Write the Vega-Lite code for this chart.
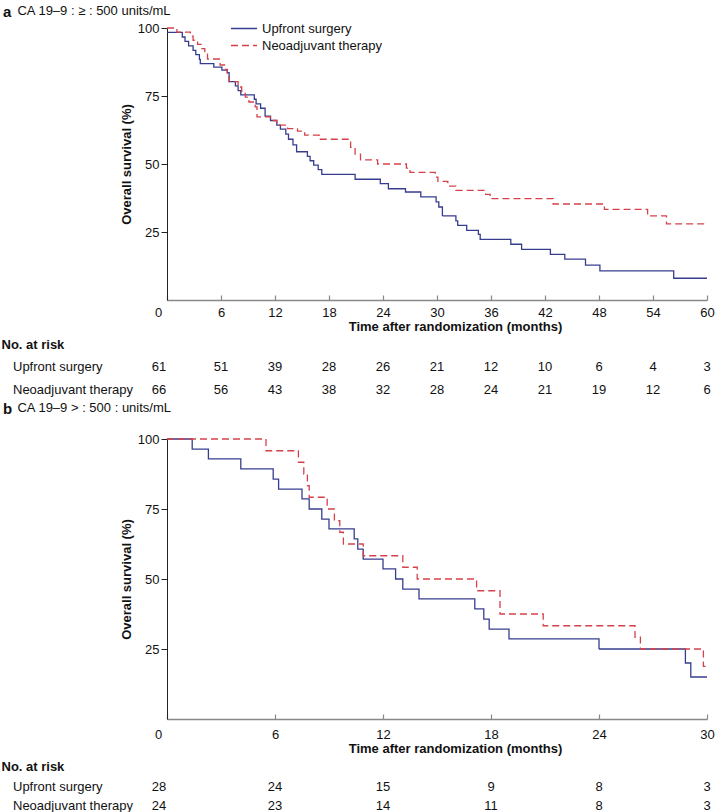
{
  "$schema": "https://vega.github.io/schema/vega-lite/v6.json",
  "background": "white",
  "padding": {"left": 1, "top": 5, "right": 5, "bottom": 0},
  "config": {
    "font": "Liberation Sans",
    "view": {"stroke": null},
    "axis": {"labelFontSize": 13, "titleFontSize": 13, "titleFontWeight": "bold", "labelColor": "#111", "titleColor": "#111", "grid": false, "labelFlush": false},
    "title": {"fontSize": 15, "fontWeight": "bold", "anchor": "start", "color": "#111", "subtitleFontSize": 13, "subtitleColor": "#111", "frame": "group"}
  },
  "spacing": 1,
  "resolve": {"scale": {"color": "independent", "strokeDash": "independent"}},
  "datasets": {
    "kmA": [
      {"group": "Upfront surgery", "time": 0, "surv": 98.4},
      {"group": "Upfront surgery", "time": 1.7, "surv": 96.7},
      {"group": "Upfront surgery", "time": 2.0, "surv": 95.1},
      {"group": "Upfront surgery", "time": 2.4, "surv": 93.4},
      {"group": "Upfront surgery", "time": 2.9, "surv": 91.8},
      {"group": "Upfront surgery", "time": 3.2, "surv": 90.2},
      {"group": "Upfront surgery", "time": 3.6, "surv": 88.5},
      {"group": "Upfront surgery", "time": 3.7, "surv": 86.9},
      {"group": "Upfront surgery", "time": 5.2, "surv": 85.6},
      {"group": "Upfront surgery", "time": 6.1, "surv": 84.5},
      {"group": "Upfront surgery", "time": 6.7, "surv": 83.6},
      {"group": "Upfront surgery", "time": 6.9, "surv": 80.3},
      {"group": "Upfront surgery", "time": 7.6, "surv": 78.7},
      {"group": "Upfront surgery", "time": 7.9, "surv": 77.0},
      {"group": "Upfront surgery", "time": 8.2, "surv": 75.4},
      {"group": "Upfront surgery", "time": 9.7, "surv": 73.8},
      {"group": "Upfront surgery", "time": 9.9, "surv": 72.1},
      {"group": "Upfront surgery", "time": 10.4, "surv": 70.5},
      {"group": "Upfront surgery", "time": 10.9, "surv": 67.6},
      {"group": "Upfront surgery", "time": 11.5, "surv": 66.0},
      {"group": "Upfront surgery", "time": 12.2, "surv": 64.3},
      {"group": "Upfront surgery", "time": 12.6, "surv": 62.8},
      {"group": "Upfront surgery", "time": 13.2, "surv": 61.0},
      {"group": "Upfront surgery", "time": 13.5, "surv": 59.1},
      {"group": "Upfront surgery", "time": 14.0, "surv": 57.0},
      {"group": "Upfront surgery", "time": 14.4, "surv": 54.5},
      {"group": "Upfront surgery", "time": 15.6, "surv": 52.8},
      {"group": "Upfront surgery", "time": 15.9, "surv": 51.2},
      {"group": "Upfront surgery", "time": 16.3, "surv": 49.6},
      {"group": "Upfront surgery", "time": 16.8, "surv": 47.9},
      {"group": "Upfront surgery", "time": 17.2, "surv": 46.2},
      {"group": "Upfront surgery", "time": 20.9, "surv": 44.4},
      {"group": "Upfront surgery", "time": 23.7, "surv": 42.8},
      {"group": "Upfront surgery", "time": 24.6, "surv": 40.9},
      {"group": "Upfront surgery", "time": 26.5, "surv": 39.7},
      {"group": "Upfront surgery", "time": 28.2, "surv": 37.9},
      {"group": "Upfront surgery", "time": 29.9, "surv": 36.1},
      {"group": "Upfront surgery", "time": 30.2, "surv": 34.2},
      {"group": "Upfront surgery", "time": 30.6, "surv": 30.9},
      {"group": "Upfront surgery", "time": 32.1, "surv": 29.1},
      {"group": "Upfront surgery", "time": 32.3, "surv": 27.4},
      {"group": "Upfront surgery", "time": 33.3, "surv": 25.6},
      {"group": "Upfront surgery", "time": 34.6, "surv": 24.1},
      {"group": "Upfront surgery", "time": 34.8, "surv": 22.3},
      {"group": "Upfront surgery", "time": 38.2, "surv": 20.5},
      {"group": "Upfront surgery", "time": 39.4, "surv": 18.6},
      {"group": "Upfront surgery", "time": 42.6, "surv": 16.8},
      {"group": "Upfront surgery", "time": 44.2, "surv": 15.0},
      {"group": "Upfront surgery", "time": 46.5, "surv": 12.8},
      {"group": "Upfront surgery", "time": 48.1, "surv": 10.7},
      {"group": "Upfront surgery", "time": 56.3, "surv": 8.0},
      {"group": "Upfront surgery", "time": 60.0, "surv": 8.0},
      {"group": "Neoadjuvant therapy", "time": 0, "surv": 100},
      {"group": "Neoadjuvant therapy", "time": 1.1, "surv": 98.5},
      {"group": "Neoadjuvant therapy", "time": 2.6, "surv": 97.0},
      {"group": "Neoadjuvant therapy", "time": 2.9, "surv": 95.5},
      {"group": "Neoadjuvant therapy", "time": 3.4, "surv": 94.0},
      {"group": "Neoadjuvant therapy", "time": 3.8, "surv": 92.4},
      {"group": "Neoadjuvant therapy", "time": 4.2, "surv": 90.9},
      {"group": "Neoadjuvant therapy", "time": 4.5, "surv": 88.6},
      {"group": "Neoadjuvant therapy", "time": 5.9, "surv": 86.4},
      {"group": "Neoadjuvant therapy", "time": 6.4, "surv": 84.8},
      {"group": "Neoadjuvant therapy", "time": 6.7, "surv": 83.3},
      {"group": "Neoadjuvant therapy", "time": 6.9, "surv": 80.3},
      {"group": "Neoadjuvant therapy", "time": 7.9, "surv": 78.3},
      {"group": "Neoadjuvant therapy", "time": 8.3, "surv": 76.5},
      {"group": "Neoadjuvant therapy", "time": 8.7, "surv": 74.6},
      {"group": "Neoadjuvant therapy", "time": 9.1, "surv": 72.8},
      {"group": "Neoadjuvant therapy", "time": 9.8, "surv": 71.0},
      {"group": "Neoadjuvant therapy", "time": 10.0, "surv": 67.3},
      {"group": "Neoadjuvant therapy", "time": 11.5, "surv": 66.0},
      {"group": "Neoadjuvant therapy", "time": 12.2, "surv": 64.3},
      {"group": "Neoadjuvant therapy", "time": 13.4, "surv": 63.0},
      {"group": "Neoadjuvant therapy", "time": 14.5, "surv": 62.1},
      {"group": "Neoadjuvant therapy", "time": 15.3, "surv": 60.6},
      {"group": "Neoadjuvant therapy", "time": 16.9, "surv": 59.1},
      {"group": "Neoadjuvant therapy", "time": 20.4, "surv": 56.1},
      {"group": "Neoadjuvant therapy", "time": 20.9, "surv": 53.6},
      {"group": "Neoadjuvant therapy", "time": 21.5, "surv": 51.5},
      {"group": "Neoadjuvant therapy", "time": 23.4, "surv": 50.0},
      {"group": "Neoadjuvant therapy", "time": 26.6, "surv": 48.5},
      {"group": "Neoadjuvant therapy", "time": 27.0, "surv": 46.9},
      {"group": "Neoadjuvant therapy", "time": 29.8, "surv": 45.2},
      {"group": "Neoadjuvant therapy", "time": 30.1, "surv": 43.6},
      {"group": "Neoadjuvant therapy", "time": 31.2, "surv": 41.9},
      {"group": "Neoadjuvant therapy", "time": 32.1, "surv": 40.3},
      {"group": "Neoadjuvant therapy", "time": 35.4, "surv": 38.8},
      {"group": "Neoadjuvant therapy", "time": 35.9, "surv": 37.3},
      {"group": "Neoadjuvant therapy", "time": 42.9, "surv": 35.3},
      {"group": "Neoadjuvant therapy", "time": 48.6, "surv": 33.3},
      {"group": "Neoadjuvant therapy", "time": 53.4, "surv": 30.9},
      {"group": "Neoadjuvant therapy", "time": 55.5, "surv": 28.0},
      {"group": "Neoadjuvant therapy", "time": 60.0, "surv": 28.0}
    ],
    "kmB": [
      {"group": "Upfront surgery", "time": 0, "surv": 100},
      {"group": "Upfront surgery", "time": 1.4, "surv": 96.4},
      {"group": "Upfront surgery", "time": 2.3, "surv": 92.9},
      {"group": "Upfront surgery", "time": 4.1, "surv": 89.3},
      {"group": "Upfront surgery", "time": 5.9, "surv": 85.7},
      {"group": "Upfront surgery", "time": 6.2, "surv": 82.1},
      {"group": "Upfront surgery", "time": 7.5, "surv": 78.6},
      {"group": "Upfront surgery", "time": 7.9, "surv": 75.0},
      {"group": "Upfront surgery", "time": 8.6, "surv": 71.4},
      {"group": "Upfront surgery", "time": 9.0, "surv": 67.9},
      {"group": "Upfront surgery", "time": 10.4, "surv": 64.3},
      {"group": "Upfront surgery", "time": 10.6, "surv": 60.7},
      {"group": "Upfront surgery", "time": 10.9, "surv": 57.1},
      {"group": "Upfront surgery", "time": 12.0, "surv": 53.6},
      {"group": "Upfront surgery", "time": 12.7, "surv": 50.0},
      {"group": "Upfront surgery", "time": 13.1, "surv": 46.4},
      {"group": "Upfront surgery", "time": 14.0, "surv": 42.9},
      {"group": "Upfront surgery", "time": 17.1, "surv": 39.3},
      {"group": "Upfront surgery", "time": 17.6, "surv": 35.7},
      {"group": "Upfront surgery", "time": 17.9, "surv": 32.1},
      {"group": "Upfront surgery", "time": 19.0, "surv": 28.6},
      {"group": "Upfront surgery", "time": 24.0, "surv": 25.0},
      {"group": "Upfront surgery", "time": 28.8, "surv": 20.0},
      {"group": "Upfront surgery", "time": 29.1, "surv": 15.0},
      {"group": "Upfront surgery", "time": 30.0, "surv": 15.0},
      {"group": "Neoadjuvant therapy", "time": 0, "surv": 100},
      {"group": "Neoadjuvant therapy", "time": 5.5, "surv": 95.8},
      {"group": "Neoadjuvant therapy", "time": 7.3, "surv": 91.7},
      {"group": "Neoadjuvant therapy", "time": 7.6, "surv": 87.5},
      {"group": "Neoadjuvant therapy", "time": 7.8, "surv": 83.3},
      {"group": "Neoadjuvant therapy", "time": 7.9, "surv": 79.2},
      {"group": "Neoadjuvant therapy", "time": 8.9, "surv": 75.0},
      {"group": "Neoadjuvant therapy", "time": 9.3, "surv": 70.8},
      {"group": "Neoadjuvant therapy", "time": 9.6, "surv": 66.7},
      {"group": "Neoadjuvant therapy", "time": 9.8, "surv": 62.5},
      {"group": "Neoadjuvant therapy", "time": 10.9, "surv": 58.3},
      {"group": "Neoadjuvant therapy", "time": 13.1, "surv": 54.2},
      {"group": "Neoadjuvant therapy", "time": 13.9, "surv": 50.0},
      {"group": "Neoadjuvant therapy", "time": 17.2, "surv": 45.8},
      {"group": "Neoadjuvant therapy", "time": 18.5, "surv": 37.5},
      {"group": "Neoadjuvant therapy", "time": 20.9, "surv": 33.3},
      {"group": "Neoadjuvant therapy", "time": 26.0, "surv": 29.2},
      {"group": "Neoadjuvant therapy", "time": 26.3, "surv": 25.0},
      {"group": "Neoadjuvant therapy", "time": 29.8, "surv": 18.8},
      {"group": "Neoadjuvant therapy", "time": 30.0, "surv": 18.8}
    ],
    "riskA": [
      {"group": "Upfront surgery", "time": 0, "n": 61},
      {"group": "Upfront surgery", "time": 6, "n": 51},
      {"group": "Upfront surgery", "time": 12, "n": 39},
      {"group": "Upfront surgery", "time": 18, "n": 28},
      {"group": "Upfront surgery", "time": 24, "n": 26},
      {"group": "Upfront surgery", "time": 30, "n": 21},
      {"group": "Upfront surgery", "time": 36, "n": 12},
      {"group": "Upfront surgery", "time": 42, "n": 10},
      {"group": "Upfront surgery", "time": 48, "n": 6},
      {"group": "Upfront surgery", "time": 54, "n": 4},
      {"group": "Upfront surgery", "time": 60, "n": 3},
      {"group": "Neoadjuvant therapy", "time": 0, "n": 66},
      {"group": "Neoadjuvant therapy", "time": 6, "n": 56},
      {"group": "Neoadjuvant therapy", "time": 12, "n": 43},
      {"group": "Neoadjuvant therapy", "time": 18, "n": 38},
      {"group": "Neoadjuvant therapy", "time": 24, "n": 32},
      {"group": "Neoadjuvant therapy", "time": 30, "n": 28},
      {"group": "Neoadjuvant therapy", "time": 36, "n": 24},
      {"group": "Neoadjuvant therapy", "time": 42, "n": 21},
      {"group": "Neoadjuvant therapy", "time": 48, "n": 19},
      {"group": "Neoadjuvant therapy", "time": 54, "n": 12},
      {"group": "Neoadjuvant therapy", "time": 60, "n": 6}
    ],
    "riskB": [
      {"group": "Upfront surgery", "time": 0, "n": 28},
      {"group": "Upfront surgery", "time": 6, "n": 24},
      {"group": "Upfront surgery", "time": 12, "n": 15},
      {"group": "Upfront surgery", "time": 18, "n": 9},
      {"group": "Upfront surgery", "time": 24, "n": 8},
      {"group": "Upfront surgery", "time": 30, "n": 3},
      {"group": "Neoadjuvant therapy", "time": 0, "n": 24},
      {"group": "Neoadjuvant therapy", "time": 6, "n": 23},
      {"group": "Neoadjuvant therapy", "time": 12, "n": 14},
      {"group": "Neoadjuvant therapy", "time": 18, "n": 11},
      {"group": "Neoadjuvant therapy", "time": 24, "n": 8},
      {"group": "Neoadjuvant therapy", "time": 30, "n": 3}
    ]
  },
  "vconcat": [
    {
      "spacing": 6,
      "vconcat": [
        {
          "width": 540,
          "height": 272,
          "title": {"text": "a", "subtitle": "\u200b\u00a0\u00a0\u00a0\u00a0CA 19–9 : ≥ : 500 units/mL", "dx": -164, "offset": 2, "subtitlePadding": -15},
          "data": {"name": "kmA"},
          "mark": {"type": "line", "interpolate": "step-after", "strokeWidth": 1.3},
          "encoding": {
            "x": {"field": "time", "type": "quantitative", "scale": {"domain": [0, 60], "nice": false},
              "axis": {"values": [0, 6, 12, 18, 24, 30, 36, 42, 48, 54, 60], "title": "Time after randomization (months)", "domainColor": "#888", "domainWidth": 1.5, "tickColor": "#888", "tickWidth": 1.2, "tickSize": -5, "labelPadding": 11, "titlePadding": 1, "titleX": 288, "labelOffset": {"condition": {"test": "datum.value == 0", "value": -9}, "value": 0}}},
            "y": {"field": "surv", "type": "quantitative", "scale": {"domain": [0, 100]},
              "axis": {"values": [25, 50, 75, 100], "title": "Overall survival (%)", "domainColor": "#222", "tickColor": "#222", "tickSize": 6, "labelPadding": 2, "titlePadding": 4}},
            "color": {"field": "group", "type": "nominal", "scale": {"domain": ["Upfront surgery", "Neoadjuvant therapy"], "range": ["#363d8e", "#d5414a"]},
              "legend": {"title": null, "orient": "none", "legendX": 63, "legendY": -8, "symbolType": "stroke", "symbolSize": 676, "symbolStrokeWidth": 1.3, "labelFontSize": 13, "labelOffset": 4, "clipHeight": 17, "rowPadding": 0, "labelColor": "#111"}},
            "strokeDash": {"field": "group", "type": "nominal", "scale": {"domain": ["Upfront surgery", "Neoadjuvant therapy"], "range": [[1, 0], [7, 4]]},
              "legend": {"title": null, "orient": "none", "legendX": 63, "legendY": -8, "symbolType": "stroke", "symbolSize": 676, "symbolStrokeWidth": 1.3, "labelFontSize": 13, "labelOffset": 4, "clipHeight": 17, "rowPadding": 0, "labelColor": "#111"}}
          }
        },
        {
          "width": 540,
          "height": 46,
          "title": {"text": "No. at risk", "fontSize": 13, "dx": -165.5, "offset": 3},
          "data": {"name": "riskA"},
          "encoding": {
            "x": {"field": "time", "type": "quantitative", "scale": {"domain": [0, 60], "nice": false}, "axis": null},
            "y": {"field": "group", "type": "nominal", "scale": {"domain": ["Upfront surgery", "Neoadjuvant therapy"]},
              "axis": {"title": null, "domain": false, "ticks": false, "tickSize": 0, "labelAlign": "left", "labelPadding": 154.5, "labelFontSize": 13}},
            "text": {"field": "n", "type": "quantitative"}
          },
          "layer": [
            {"transform": [{"filter": "datum.time == 0"}], "mark": {"type": "text", "fontSize": 13, "dx": -8, "color": "#111"}},
            {"transform": [{"filter": "datum.time > 0"}], "mark": {"type": "text", "fontSize": 13, "color": "#111"}}
          ]
        }
      ]
    },
    {
      "spacing": 6,
      "vconcat": [
        {
          "width": 540,
          "height": 280,
          "title": {"text": "b", "subtitle": "\u200b\u00a0\u00a0\u00a0\u00a0CA 19–9 > : 500 : units/mL", "dx": -164, "offset": 16, "subtitlePadding": -15},
          "data": {"name": "kmB"},
          "mark": {"type": "line", "interpolate": "step-after", "strokeWidth": 1.3},
          "encoding": {
            "x": {"field": "time", "type": "quantitative", "scale": {"domain": [0, 30], "nice": false},
              "axis": {"values": [0, 6, 12, 18, 24, 30], "title": "Time after randomization (months)", "domainColor": "#888", "domainWidth": 1.5, "tickColor": "#888", "tickWidth": 1.2, "tickSize": -5, "labelPadding": 14, "titlePadding": 1, "titleX": 288, "labelOffset": {"condition": {"test": "datum.value == 0", "value": -9}, "value": 0}}},
            "y": {"field": "surv", "type": "quantitative", "scale": {"domain": [0, 100]},
              "axis": {"values": [25, 50, 75, 100], "title": "Overall survival (%)", "domainColor": "#222", "tickColor": "#222", "tickSize": 6, "labelPadding": 2, "titlePadding": 4}},
            "color": {"field": "group", "type": "nominal", "scale": {"domain": ["Upfront surgery", "Neoadjuvant therapy"], "range": ["#363d8e", "#d5414a"]}, "legend": null},
            "strokeDash": {"field": "group", "type": "nominal", "scale": {"domain": ["Upfront surgery", "Neoadjuvant therapy"], "range": [[1, 0], [7, 4]]}, "legend": null}
          }
        },
        {
          "width": 540,
          "height": 38,
          "title": {"text": "No. at risk", "fontSize": 13, "dx": -165.5, "offset": 3},
          "data": {"name": "riskB"},
          "encoding": {
            "x": {"field": "time", "type": "quantitative", "scale": {"domain": [0, 30], "nice": false}, "axis": null},
            "y": {"field": "group", "type": "nominal", "scale": {"domain": ["Upfront surgery", "Neoadjuvant therapy"]},
              "axis": {"title": null, "domain": false, "ticks": false, "tickSize": 0, "labelAlign": "left", "labelPadding": 154.5, "labelFontSize": 13}},
            "text": {"field": "n", "type": "quantitative"}
          },
          "layer": [
            {"transform": [{"filter": "datum.time == 0"}], "mark": {"type": "text", "fontSize": 13, "dx": -8, "color": "#111"}},
            {"transform": [{"filter": "datum.time > 0"}], "mark": {"type": "text", "fontSize": 13, "color": "#111"}}
          ]
        }
      ]
    }
  ]
}
